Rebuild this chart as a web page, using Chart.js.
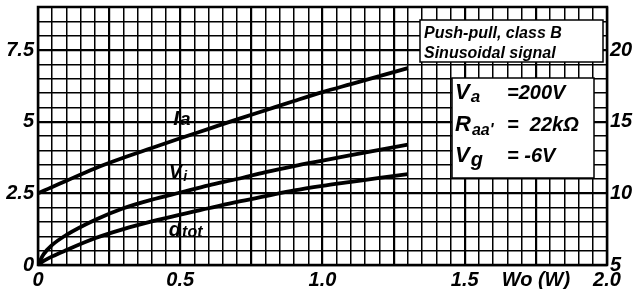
<!DOCTYPE html>
<html>
<head>
<meta charset="utf-8">
<script src="https://cdn.jsdelivr.net/npm/chart.js@4.4.1/dist/chart.umd.min.js"></script>
<style>
  body { margin: 0; background: #fff; }
</style>
</head>
<body>
<canvas id="valveChart" width="639" height="289"></canvas>
<script>
// output power Wo (W)
const power = [0, 0.02, 0.05, 0.1, 0.2, 0.3, 0.4, 0.5, 0.6, 0.7, 0.8, 0.9, 1.0, 1.1, 1.2, 1.3];
// curve values read against the left scale
const anodeCurrent = [2.5, 2.59, 2.72, 2.94, 3.37, 3.74, 4.08, 4.42, 4.75, 5.08, 5.4, 5.72, 6.03, 6.31, 6.59, 6.87];
const inputVoltage = [0, 0.38, 0.7, 1.05, 1.57, 1.98, 2.28, 2.53, 2.78, 3.0, 3.24, 3.45, 3.64, 3.83, 4.02, 4.2];
const distortion = [0, 0.14, 0.3, 0.52, 0.93, 1.25, 1.52, 1.76, 1.98, 2.2, 2.4, 2.6, 2.76, 2.9, 3.04, 3.17];

const xTickLabels = { 0: '0', 50: '0.5', 100: '1.0', 150: '1.5', 175: 'Wo (W)', 200: '2.0' };
const leftTickLabels = { 0: '0', 25: '2.5', 50: '5', 75: '7.5' };
const rightTickLabels = [5, 10, 15, 20];

const FONT = 'Liberation Sans';

function pts(ys) {
    return power.map((x, i) => ({ x: x, y: ys[i] }));
}

function curve(label, ys) {
    return {
        label: label,
        data: pts(ys),
        borderColor: '#000',
        borderWidth: 3.8,
        pointRadius: 0,
        cubicInterpolationMode: 'monotone',
        fill: false
    };
}

function noPad(s) {
    s.paddingTop = 0;
    s.paddingBottom = 0;
}

// white boxes with the operating conditions, curve names and the frame
const notes = {
    id: 'notes',
    afterDatasetsDraw(chart) {
        const c = chart.ctx;
        const a = chart.chartArea;
        const xs = chart.scales.x, ys = chart.scales.y;

        c.save();
        c.fillStyle = '#fff';
        c.strokeStyle = '#000';
        c.lineWidth = 1.5;
        c.fillRect(420, 20, a.right - 424, 42);
        c.strokeRect(420, 20, a.right - 424, 42);
        c.fillRect(452, 78, 142, 100);
        c.strokeRect(452, 78, 142, 100);

        c.fillStyle = '#000';
        c.textBaseline = 'alphabetic';
        c.textAlign = 'left';
        c.font = 'italic bold 16px "' + FONT + '"';
        c.fillText('Push-pull, class B', 424, 38);
        c.fillText('Sinusoidal signal', 424, 58);

        function sub(main, s, x, y, size, subSize, drop) {
            c.font = 'italic bold ' + size + 'px "' + FONT + '"';
            c.fillText(main, x, y);
            const w = c.measureText(main).width;
            c.font = 'italic bold ' + subSize + 'px "' + FONT + '"';
            c.fillText(s, x + w + 1, y + drop);
        }

        sub('V', 'a', 455, 99, 22, 17, 3);
        c.font = 'italic bold 20px "' + FONT + '"';
        c.fillText('=200V', 507, 99);
        sub('R', "aa'", 455, 131, 22, 16, 4);
        c.font = 'italic bold 20px "' + FONT + '"';
        c.fillText('=  22k\u03a9', 507, 131);
        sub('V', 'g', 455, 162, 22, 20, 4);
        c.font = 'italic bold 20px "' + FONT + '"';
        c.fillText('= -6V', 507, 162);

        // curve names, placed in data coordinates
        sub('I', 'a', xs.getPixelForValue(0.475), ys.getPixelForValue(4.9), 21, 19, 0);
        sub('V', 'i', xs.getPixelForValue(0.46), ys.getPixelForValue(3.05), 20, 14, 3);
        sub('d', 'tot', xs.getPixelForValue(0.46), ys.getPixelForValue(1.0), 20, 16, 1);

        c.lineWidth = 2.5;
        c.strokeRect(a.left, a.top, a.right - a.left, a.bottom - a.top);
        c.restore();
    }
};

const ctx = document.getElementById('valveChart').getContext('2d');

new Chart(ctx, {
    type: 'line',
    data: {
        datasets: [
            curve('Ia', anodeCurrent),
            curve('Vi', inputVoltage),
            curve('dtot', distortion)
        ]
    },
    options: {
        responsive: false,
        animation: false,
        devicePixelRatio: 1,
        layout: { padding: { top: 7, left: 0, right: 0, bottom: 0 } },
        plugins: {
            legend: { display: false },
            tooltip: { enabled: false }
        },
        scales: {
            x: {
                type: 'linear',
                position: 'bottom',
                min: 0,
                max: 2,
                afterFit: (s) => { s.height = 24; s.paddingLeft = 0; s.paddingRight = 0; },
                afterBuildTicks: (s) => {
                    const t = [];
                    for (let i = 0; i <= 40; i++) t.push({ value: i * 0.05 });
                    s.ticks = t;
                },
                border: { display: false },
                grid: {
                    color: '#000',
                    drawTicks: false,
                    lineWidth: (c) => (Math.round(c.tick.value * 100) % 25 === 0 ? 2.2 : 1.5)
                },
                ticks: {
                    autoSkip: false,
                    maxRotation: 0,
                    padding: 3,
                    color: '#000',
                    font: { family: FONT, size: 20, style: 'italic', weight: 'bold' },
                    callback: (v) => xTickLabels[Math.round(v * 100)] || ''
                }
            },
            y: {
                position: 'left',
                min: 0,
                max: 9,
                afterFit: (s) => { s.width = 38; noPad(s); },
                afterBuildTicks: (s) => {
                    const t = [];
                    for (let i = 0; i <= 18; i++) t.push({ value: i * 0.5 });
                    s.ticks = t;
                },
                border: { display: false },
                grid: {
                    color: '#000',
                    drawTicks: false,
                    lineWidth: (c) => (Math.round(c.tick.value * 10) % 25 === 0 ? 2.2 : 1.5)
                },
                ticks: {
                    autoSkip: false,
                    padding: 4,
                    color: '#000',
                    font: { family: FONT, size: 20, style: 'italic', weight: 'bold' },
                    callback: (v) => leftTickLabels[Math.round(v * 10)] || ''
                }
            },
            y1: {
                position: 'right',
                min: 5,
                max: 23,
                afterFit: (s) => { s.width = 32; noPad(s); },
                afterBuildTicks: (s) => {
                    s.ticks = rightTickLabels.map((v) => ({ value: v }));
                },
                border: { display: false },
                grid: { drawOnChartArea: false, drawTicks: false },
                ticks: {
                    padding: 3,
                    color: '#000',
                    font: { family: FONT, size: 20, style: 'italic', weight: 'bold' },
                    callback: (v) => String(v)
                }
            }
        }
    },
    plugins: [notes]
});
</script>
</body>
</html>
